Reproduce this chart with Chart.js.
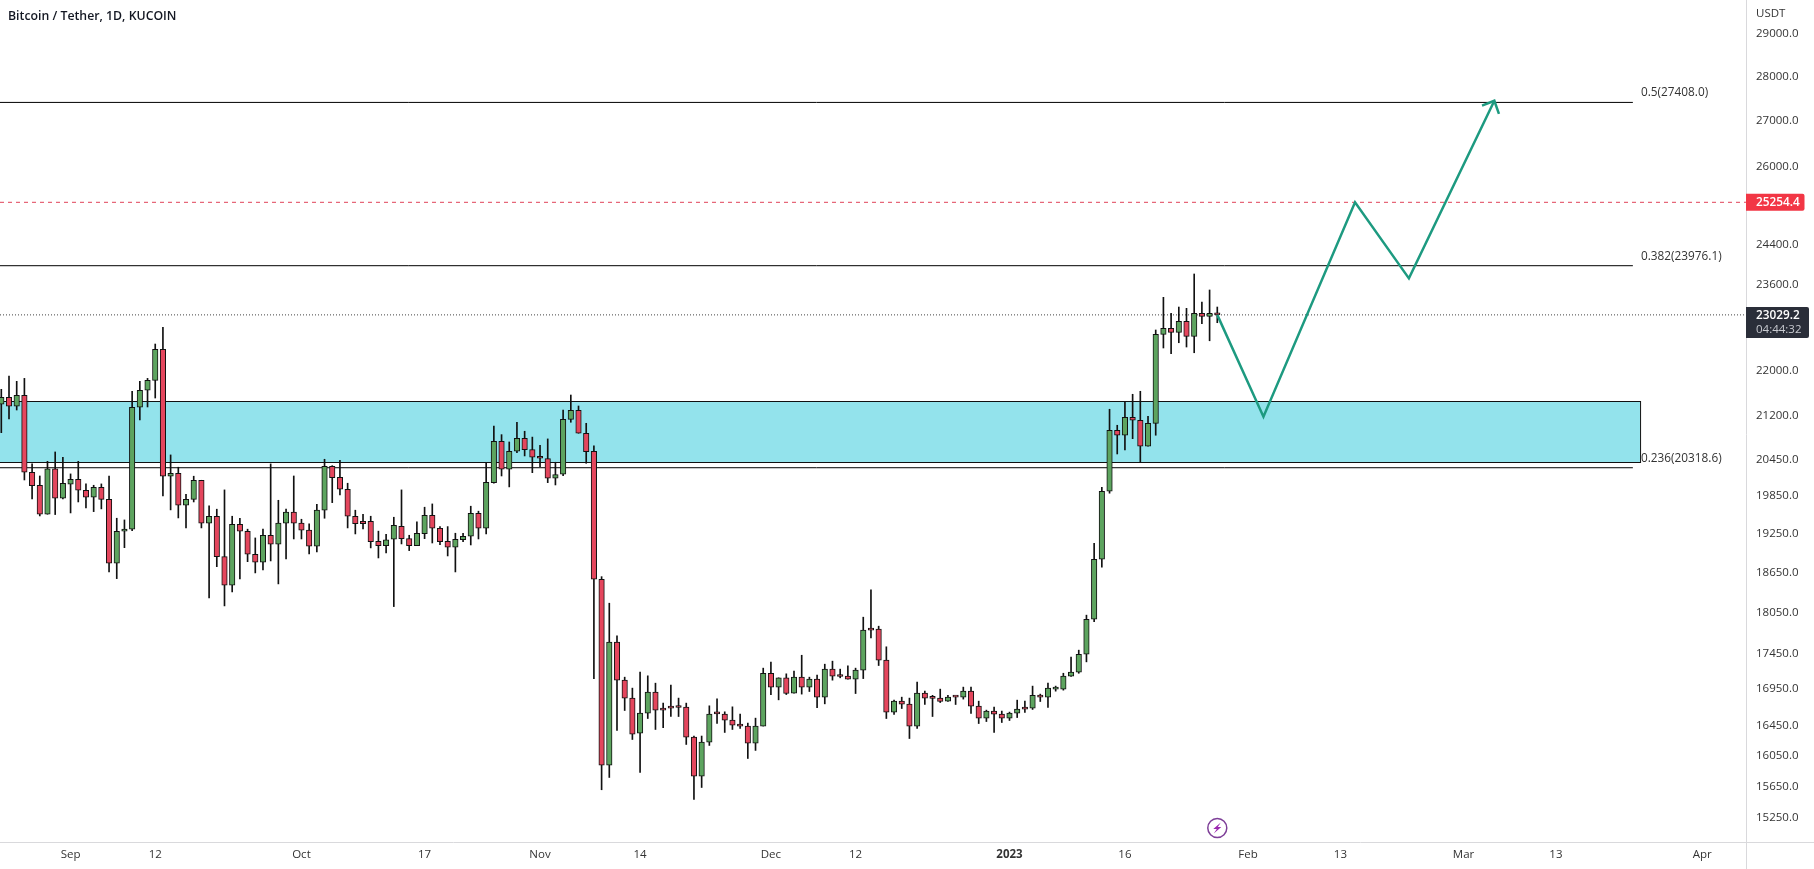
<!DOCTYPE html>
<html>
<head>
<meta charset="utf-8">
<title>Bitcoin / Tether, 1D, KUCOIN</title>
<script src="https://cdn.jsdelivr.net/npm/chart.js@4/dist/chart.umd.min.js"></script>
<style>
  html, body { margin: 0; padding: 0; background: #fff; overflow: hidden; }
  canvas { display: block; }
</style>
</head>
<body>
<canvas id="chart" width="1814" height="869"></canvas>
<script>
// ====== candles, one per day, index 0 = 23 Aug 2022 ======
const opens = [
  21403,21526,21368,21561,20244,20029,19559,20299,19817,20046,
  20128,19948,19833,19997,19800,18790,19289,19321,21351,21650,
  21827,22389,20178,20227,19704,19800,20111,19416,19527,18891,
  18454,19400,19289,18929,18805,19225,19084,19416,19592,19416,
  19305,19053,19624,20343,20161,19964,19527,19447,19447,19131,
  19062,19162,19368,19172,19062,19251,19543,19336,19131,19037,
  19154,19209,19575,19336,20072,20764,20294,20595,20815,20622,
  20494,20470,20144,20210,21141,21298,20901,20595,18545,15926,
  17613,17073,16824,16349,16618,16907,16687,16700,16704,16700,
  16295,15783,16229,16618,16605,16523,16456,16443,16215,16443,
  17170,16976,17106,16893,17115,16976,17087,16837,17228,17134,
  17129,17087,17214,17802,17802,17356,16632,16782,16741,16443,
  16893,16824,16824,16782,16842,16837,16920,16714,16550,16646,
  16605,16550,16618,16687,16687,16862,16837,16948,16948,17129,
  17185,17440,17947,18851,19931,20952,20867,21176,21124,20680,
  21072,22665,22777,22703,22908,22628,23059,23001,23059
];
const highs = [
  21667,21904,21809,21862,20382,20182,20426,20583,20494,20216,
  20426,20051,20029,20051,20182,19495,19468,21632,21809,21862,
  22486,22796,20533,20327,19882,20178,20111,19693,19640,19953,
  19527,19495,19321,19183,19321,20382,19784,19640,20182,19479,
  19405,19720,20460,20353,20443,20062,19624,19559,19527,19290,
  19241,19511,19953,19225,19436,19672,19725,19362,19362,19257,
  19257,19688,19608,20410,21026,20877,20752,21090,20935,20835,
  20696,20804,20410,21303,21566,21373,21072,20685,18584,18184,
  17704,17115,16962,17185,17134,17031,16755,17004,16824,16755,
  16309,16309,16718,16814,16636,16704,16605,16483,16550,17242,
  17327,17106,17162,17200,17425,17115,17143,17298,17341,17228,
  17274,17242,17977,18383,17845,17546,16796,16837,16824,17045,
  16920,16862,16948,16862,16850,16976,16976,16782,16659,16700,
  16646,16632,16796,16782,16990,16879,17031,16990,17170,17398,
  17498,18007,19100,19997,21316,21038,21455,21579,21632,21193,
  22746,23363,23059,23178,23153,23814,23273,23504,23178
];
const lows = [
  20911,21146,21303,20116,19805,19532,19559,19554,19805,19580,
  19757,19661,19601,19645,18656,18554,19031,19298,21129,21356,
  21513,19854,19629,19500,19341,19757,19341,18263,18737,18144,
  18353,18550,18814,18641,18687,18825,18474,18855,19167,19167,
  18933,18964,19495,19746,19871,19341,19246,19325,19027,18871,
  18949,18134,19089,18985,19062,19172,19104,19078,18902,18656,
  19125,19073,19167,19246,20062,20182,20002,20571,20516,20237,
  20337,20072,20034,20187,21090,20901,20393,17095,15607,15765,
  16384,16654,16263,15830,16545,16397,16420,16572,16572,16197,
  15483,15636,16184,16477,16357,16397,16410,16012,16118,16443,
  16873,16800,16873,16893,16879,16915,16691,16745,17073,17106,
  17087,16887,17095,17675,17279,16545,16600,16681,16276,16410,
  16736,16572,16763,16777,16736,16810,16613,16477,16504,16357,
  16491,16518,16558,16627,16668,16777,16695,16920,16934,17124,
  17170,17331,17912,18728,19899,20549,20617,20808,20410,20680,
  20867,22413,22308,22510,22431,22326,22863,22546,22882
];
const closes = [
  21526,21368,21561,20244,20023,19559,20299,19817,20062,20128,
  19948,19833,19997,19800,18790,19289,19321,21351,21650,21827,
  22389,20178,20227,19704,19800,20111,19416,19527,18891,18454,
  19400,19289,18929,18805,19225,19084,19416,19592,19416,19305,
  19053,19624,20343,20154,19964,19527,19409,19409,19125,19062,
  19154,19384,19172,19062,19257,19543,19336,19125,19037,19162,
  19209,19575,19336,20078,20764,20294,20595,20815,20622,20494,
  20477,20144,20204,21141,21298,20901,20588,18545,15926,17613,
  17073,16824,16335,16618,16907,16659,16659,16687,16695,16295,
  15783,16229,16605,16609,16523,16456,16443,16215,16443,17170,
  16976,17106,16887,17115,16976,17087,16837,17228,17129,17124,
  17087,17214,17787,17787,17356,16632,16782,16741,16443,16893,
  16824,16820,16777,16837,16837,16920,16714,16550,16646,16605,
  16550,16618,16673,16673,16862,16837,16962,16962,17129,17185,
  17440,17947,18851,19931,20952,20867,21176,21124,20680,21072,
  22665,22777,22703,22908,22628,23059,23001,23059,23029.2
];

// ====== axes ======
const xTickIdx = [9, 20, 39, 55, 70, 83, 100, 111, 131, 146, 162, 174, 190, 202, 221];
const xTickLabels = ["Sep", "12", "Oct", "17", "Nov", "14", "Dec", "12", "2023", "16", "Feb", "13", "Mar", "13", "Apr"];
const yTicks = [29000, 28000, 27000, 26000, 24400, 23600, 22000, 21200, 20450, 19850, 19250, 18650, 18050, 17450, 16950, 16450, 16050, 15650, 15250];

// ====== levels drawn on the chart ======
const fibValues = [27408.0, 23976.1, 20318.6];
const fibLabels = ["0.5(27408.0)", "0.382(23976.1)", "0.236(20318.6)"];
const fibEndIdx = 212;
const zoneTop = 21455;
const zoneBottom = 20410;
const zoneEndIdx = 213;
const redLevel = 25254.4;
const lastPrice = 23029.2;
const countdown = "04:44:32";

// forecast path and its arrow head
const pathIdx = [158, 164, 175.9, 182.9, 194];
const pathPrice = [23029.2, 21187, 25254.4, 23729, 27446];
const headIdx = [192.4, 194, 194.6];
const headPrice = [27335, 27446, 27150];

const xMin = -0.17;
const xMax = 226.7;
const yMin = 14953;
const yMax = 29807;

const GREEN = "#5da45f";
const RED = "#e4465d";
const INK = "#111";
const FONT = '"Open Sans", sans-serif';

const isUp = closes.map((c, i) => c >= opens[i]);

const pairs = (xs, ys) => xs.map((x, i) => ({ x: x, y: ys[i] }));
const hline = (v, end) => [{ x: xMin, y: v }, { x: end, y: v }];

// zone rectangle goes under everything
const zonePlugin = {
  id: "zone",
  beforeDatasetsDraw(chart) {
    const { ctx, scales } = chart;
    const x0 = -1;
    const x1 = scales.x.getPixelForValue(zoneEndIdx);
    const y0 = scales.y.getPixelForValue(zoneTop);
    const y1 = scales.y.getPixelForValue(zoneBottom);
    ctx.save();
    ctx.fillStyle = "#93e3ec";
    ctx.strokeStyle = INK;
    ctx.lineWidth = 1;
    ctx.fillRect(x0, y0, x1 - x0, y1 - y0);
    ctx.strokeRect(x0, Math.round(y0) + 0.5, x1 - x0, Math.round(y1 - y0));
    ctx.restore();
  },
};

// labels, price boxes, frame lines
const overlayPlugin = {
  id: "overlay",
  afterDraw(chart) {
    const { ctx, scales, chartArea } = chart;
    const right = chartArea.right;
    const bottom = chartArea.bottom;
    ctx.save();

    // frame
    ctx.strokeStyle = "#d9d9dc";
    ctx.lineWidth = 1;
    ctx.beginPath();
    ctx.moveTo(right + 0.5, 0);
    ctx.lineTo(right + 0.5, chart.height);
    ctx.moveTo(0, bottom + 0.5);
    ctx.lineTo(chart.width, bottom + 0.5);
    ctx.stroke();

    ctx.textBaseline = "middle";
    ctx.textAlign = "left";

    // title
    ctx.fillStyle = "#131722";
    ctx.font = "600 12.3px " + FONT;
    ctx.fillText("Bitcoin / Tether, 1D, KUCOIN", 8, 16);

    // currency
    ctx.fillStyle = "#333";
    ctx.font = "11.5px " + FONT;
    ctx.fillText("USDT", right + 10, 14);

    // fib labels
    ctx.font = "11.8px " + FONT;
    ctx.fillStyle = "#333";
    fibValues.forEach((v, i) => {
      ctx.fillText(fibLabels[i], 1641, scales.y.getPixelForValue(v) - 9.5);
    });

    // red level box
    const ry = scales.y.getPixelForValue(redLevel);
    ctx.fillStyle = "#f23645";
    ctx.beginPath();
    ctx.roundRect(right, ry - 8.5, 58.5, 17, [0, 2, 2, 0]);
    ctx.fill();
    ctx.fillStyle = "#fff";
    ctx.font = "600 11.8px " + FONT;
    ctx.fillText(redLevel.toFixed(1), right + 10, ry + 0.5);

    // last price box
    const ly = scales.y.getPixelForValue(lastPrice);
    ctx.fillStyle = "#2a2e39";
    ctx.beginPath();
    ctx.roundRect(right, ly - 8, 63, 31, [0, 2, 2, 0]);
    ctx.fill();
    ctx.fillStyle = "#fff";
    ctx.fillText(lastPrice.toFixed(1), right + 10, ly + 0.5);
    ctx.fillStyle = "#c8cad0";
    ctx.font = "11.5px " + FONT;
    ctx.fillText(countdown, right + 10, ly + 15);

    // earnings style icon under the last candle
    const ix = scales.x.getPixelForValue(opens.length - 1);
    const iy = bottom - 14;
    ctx.strokeStyle = "#7e3f98";
    ctx.lineWidth = 1.5;
    ctx.beginPath();
    ctx.arc(ix, iy, 9.5, 0, Math.PI * 2);
    ctx.stroke();
    ctx.fillStyle = "#9c27b0";
    ctx.beginPath();
    ctx.moveTo(ix + 3.5, iy - 5.5);
    ctx.lineTo(ix - 4, iy + 1);
    ctx.lineTo(ix - 0.5, iy + 1);
    ctx.lineTo(ix - 3.5, iy + 5.5);
    ctx.lineTo(ix + 4, iy - 1);
    ctx.lineTo(ix + 0.5, iy - 1);
    ctx.closePath();
    ctx.fill();

    ctx.restore();
  },
};

new Chart(document.getElementById("chart"), {
  type: "bar",
  plugins: [zonePlugin, overlayPlugin],
  data: {
    datasets: [
      // ====== candles ======
      {
        type: "bar",
        label: "body",
        order: 1,
        grouped: false,
        barThickness: 5.5,
        minBarLength: 2,
        borderWidth: 1,
        borderSkipped: false,
        borderColor: INK,
        backgroundColor: isUp.map((u) => (u ? GREEN : RED)),
        data: opens.map((o, i) => ({ x: i, y: [o, closes[i]] })),
      },
      {
        type: "bar",
        label: "wick",
        order: 2,
        grouped: false,
        barThickness: 1,
        borderWidth: 0,
        backgroundColor: INK,
        data: lows.map((l, i) => ({ x: i, y: [l, highs[i]] })),
      },
      // ====== levels ======
      ...fibValues.map((v) => ({
        type: "line",
        label: "fib",
        order: 5,
        borderColor: "#000",
        borderWidth: 1,
        pointRadius: 0,
        data: hline(v, fibEndIdx),
      })),
      {
        type: "line",
        label: "red level",
        order: 4,
        borderColor: "#e0435a",
        borderWidth: 1,
        borderDash: [4, 4],
        pointRadius: 0,
        data: hline(redLevel, xMax),
      },
      {
        type: "line",
        label: "last price",
        order: 4,
        borderColor: "#444",
        borderWidth: 1,
        borderDash: [1, 2],
        pointRadius: 0,
        data: hline(lastPrice, xMax),
      },
      // ====== forecast ======
      {
        type: "line",
        label: "path",
        order: 0,
        borderColor: "#1d9a80",
        borderWidth: 2.5,
        pointRadius: 0,
        tension: 0,
        data: pairs(pathIdx, pathPrice),
      },
      {
        type: "line",
        label: "head",
        order: 0,
        borderColor: "#1d9a80",
        borderWidth: 2.5,
        pointRadius: 0,
        tension: 0,
        data: pairs(headIdx, headPrice),
      },
    ],
  },
  options: {
    responsive: false,
    animation: false,
    layout: { autoPadding: false, padding: 0 },
    plugins: {
      legend: { display: false },
      tooltip: { enabled: false },
      title: { display: false },
    },
    scales: {
      x: {
        type: "linear",
        offset: false,
        min: xMin,
        max: xMax,
        grid: { display: false, drawTicks: false },
        border: { display: false },
        afterBuildTicks: (s) => {
          s.ticks = xTickIdx.map((v) => ({ value: v }));
        },
        afterFit: (s) => {
          s.height = 27;
        },
        ticks: {
          autoSkip: false,
          maxRotation: 0,
          padding: 6,
          color: "#333",
          font: (c) => ({
            family: FONT,
            size: 11.5,
            weight: c.tick && c.tick.label === "2023" ? "700" : "400",
          }),
          callback: (v, i) => xTickLabels[i],
        },
      },
      y: {
        type: "logarithmic",
        position: "right",
        min: yMin,
        max: yMax,
        grid: { display: false, drawTicks: false },
        border: { display: false },
        afterBuildTicks: (s) => {
          s.ticks = yTicks.map((v) => ({ value: v }));
        },
        afterFit: (s) => {
          s.width = 68;
          s.paddingTop = 0;
          s.paddingBottom = 0;
        },
        ticks: {
          autoSkip: false,
          padding: 10,
          crossAlign: "near",
          color: "#333",
          font: { family: FONT, size: 11.5 },
          callback: (v) => Number(v).toFixed(1),
        },
      },
    },
  },
});
</script>
</body>
</html>
